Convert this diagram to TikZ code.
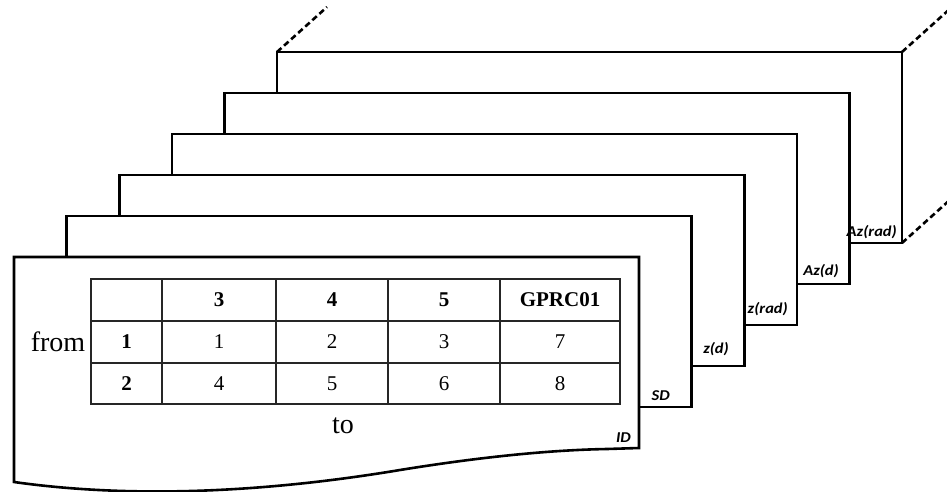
\documentclass[tikz,border=0pt]{standalone}
\usepackage{fontspec}
\usepackage{graphicx}
\setmainfont{Liberation Serif}
\newfontfamily\labfont{Carlito}
\begin{document}
\begin{tikzpicture}[x=1pt,y=-1pt,
  sheet/.style={draw=black, fill=white, line width=2.6pt, line join=miter},
  grid/.style={draw=black!85, line width=1.2pt},
  cell/.style={font=\fontsize{21}{23}\selectfont, inner sep=0pt},
  hcell/.style={font=\fontsize{21}{23}\selectfont\bfseries, inner sep=0pt},
  axis/.style={font=\fontsize{28}{30}\selectfont, inner sep=0pt},
  tag/.style={font=\labfont\bfseries\itshape\fontsize{15}{17}\selectfont, inner sep=0pt, anchor=base east},
  guide/.style={line width=2.6pt, dash pattern=on 6pt off 3.5pt}]
\useasboundingbox (0,0) rectangle (947,492);

% stacked sheets, back to front
\foreach \i in {5,4,...,1} {
  \path[sheet] ({14+52.6*\i},{257-41*\i}) rectangle ({639+52.6*\i},{448-41*\i});
}
% corners of the rearmost sheet
\coordinate (backTL) at (277,52);
\coordinate (backTR) at (902,52);
\coordinate (backBR) at (902,243);
\draw[guide] (backTL) -- ++(50,-45);
\draw[guide] (backTR) -- ++(50,-45);
\draw[guide] (backBR) -- ++(50,-45);

% front sheet with torn lower edge
\path[sheet] (14,257) -- (639,257) -- (639,448) -- (607,449)
  .. controls (550,450) and (480,457) .. (400,470)
  .. controls (250,495) and (120,497) .. (14,482) -- cycle;

% table grid
\draw[grid] (91,279) rectangle (620,404);
\foreach \y in {321,363} \draw[grid] (91,\y) -- (620,\y);
\foreach \x in {162,276,388,500} \draw[grid] (\x,279) -- (\x,404);

% header row
\node[hcell] (h3) at (219,300) {3};
\node[hcell] (h4) at (332,300) {4};
\node[hcell] (h5) at (444,300) {5};
\node[hcell] (hg) at (560,300) {GPRC01};
% row labels
\node[hcell] (r1) at (126.5,342) {1};
\node[hcell] (r2) at (126.5,383.5) {2};
% body
\node[cell] (c11) at (219,342) {1};
\node[cell] (c12) at (332,342) {2};
\node[cell] (c13) at (444,342) {3};
\node[cell] (c14) at (560,342) {7};
\node[cell] (c21) at (219,383.5) {4};
\node[cell] (c22) at (332,383.5) {5};
\node[cell] (c23) at (444,383.5) {6};
\node[cell] (c24) at (560,383.5) {8};

\node[axis] (from) at (58,342) {from};
\node[axis] (to) at (343,426) {to};

% sheet tags
\node[tag] (tID) at (631,442) {\scalebox{1.1}[1]{ID}};
\node[tag] (tSD) at (670,400) {\scalebox{1.1}[1]{SD}};
\node[tag] (tzd) at (729,353) {\scalebox{1.1}[1]{z(d)}};
\node[tag] (tzr) at (788,313) {\scalebox{1.1}[1]{z(rad)}};
\node[tag] (tAd) at (839,275) {\scalebox{1.1}[1]{Az(d)}};
\node[tag] (tAr) at (897,236) {\scalebox{1.1}[1]{Az(rad)}};
\end{tikzpicture}
\end{document}
